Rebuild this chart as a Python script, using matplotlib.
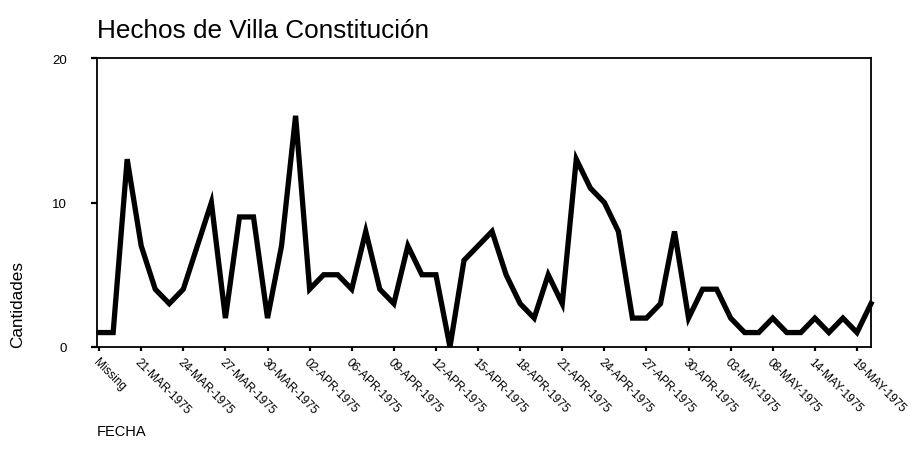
import matplotlib
matplotlib.use("Agg")
import matplotlib.pyplot as plt
import matplotlib.transforms as mtransforms
import numpy as np

plt.rcParams['font.family'] = ['Liberation Sans', 'DejaVu Sans']

# Hechos por fecha (Missing + fechas de 1975)
counts = [1, 1, 13, 7, 4, 3, 4, 7, 10, 2,
          9, 9, 2, 7, 16, 4, 5, 5, 4, 8,
          4, 3, 7, 5, 5, 0, 6, 7, 8, 5,
          3, 2, 5, 3, 13, 11, 10, 8, 2, 2,
          3, 8, 2, 4, 4, 2, 1, 1, 2, 1,
          1, 2, 1, 2, 1, 3]

tick_labels = ['Missing', '21-MAR-1975', '24-MAR-1975', '27-MAR-1975',
               '30-MAR-1975', '02-APR-1975', '06-APR-1975', '09-APR-1975',
               '12-APR-1975', '15-APR-1975', '18-APR-1975', '21-APR-1975',
               '24-APR-1975', '27-APR-1975', '30-APR-1975', '03-MAY-1975',
               '08-MAY-1975', '14-MAY-1975', '19-MAY-1975']
y_ticks = [0, 10, 20]

W, H = 911, 464
fig = plt.figure(figsize=(W / 100, H / 100), dpi=100)
ax = fig.add_axes([97 / W, 1 - 348 / H, (871 - 97) / W, (348 - 59) / H])

x = np.arange(len(counts))
ax.plot(x, counts, color='black', lw=3.8, solid_joinstyle='miter',
        clip_on=False, zorder=3)

ax.set_xlim(-0.15, len(counts) - 1)
ax.set_ylim(0, 20)

ax.set_xticks(x[::3])
ax.set_xticklabels(tick_labels, rotation=-45, ha='left', va='top',
                   rotation_mode='anchor', fontsize=8.5,
                   family=['Liberation Sans Narrow', 'Liberation Sans'])
# nudge the slanted labels a little to the right, like the original
shift = mtransforms.ScaledTranslation(5 / 100, 1 / 100, fig.dpi_scale_trans)
for lab in ax.get_xticklabels():
    lab.set_transform(lab.get_transform() + shift)

ax.set_yticks(y_ticks)
ax.set_yticklabels([str(v) for v in y_ticks], fontsize=9.5)

ax.tick_params(axis='x', direction='out', length=3, width=1.6, pad=3)
ax.tick_params(axis='y', direction='out', length=4.5, width=1.6, pad=17)
for s in ax.spines.values():
    s.set_linewidth(1.3)
    s.set_color('black')

fig.text(97 / W, 1 - 38 / H, 'Hechos de Villa Constitución', fontsize=18.8,
         ha='left', va='baseline')
fig.text(18 / W, 1 - 305 / H, 'Cantidades', fontsize=12.3, rotation=90,
         ha='center', va='center')
fig.text(97 / W, 1 - 436 / H, 'FECHA', fontsize=10.5, ha='left', va='baseline')

fig.savefig('out.png', dpi=100)
